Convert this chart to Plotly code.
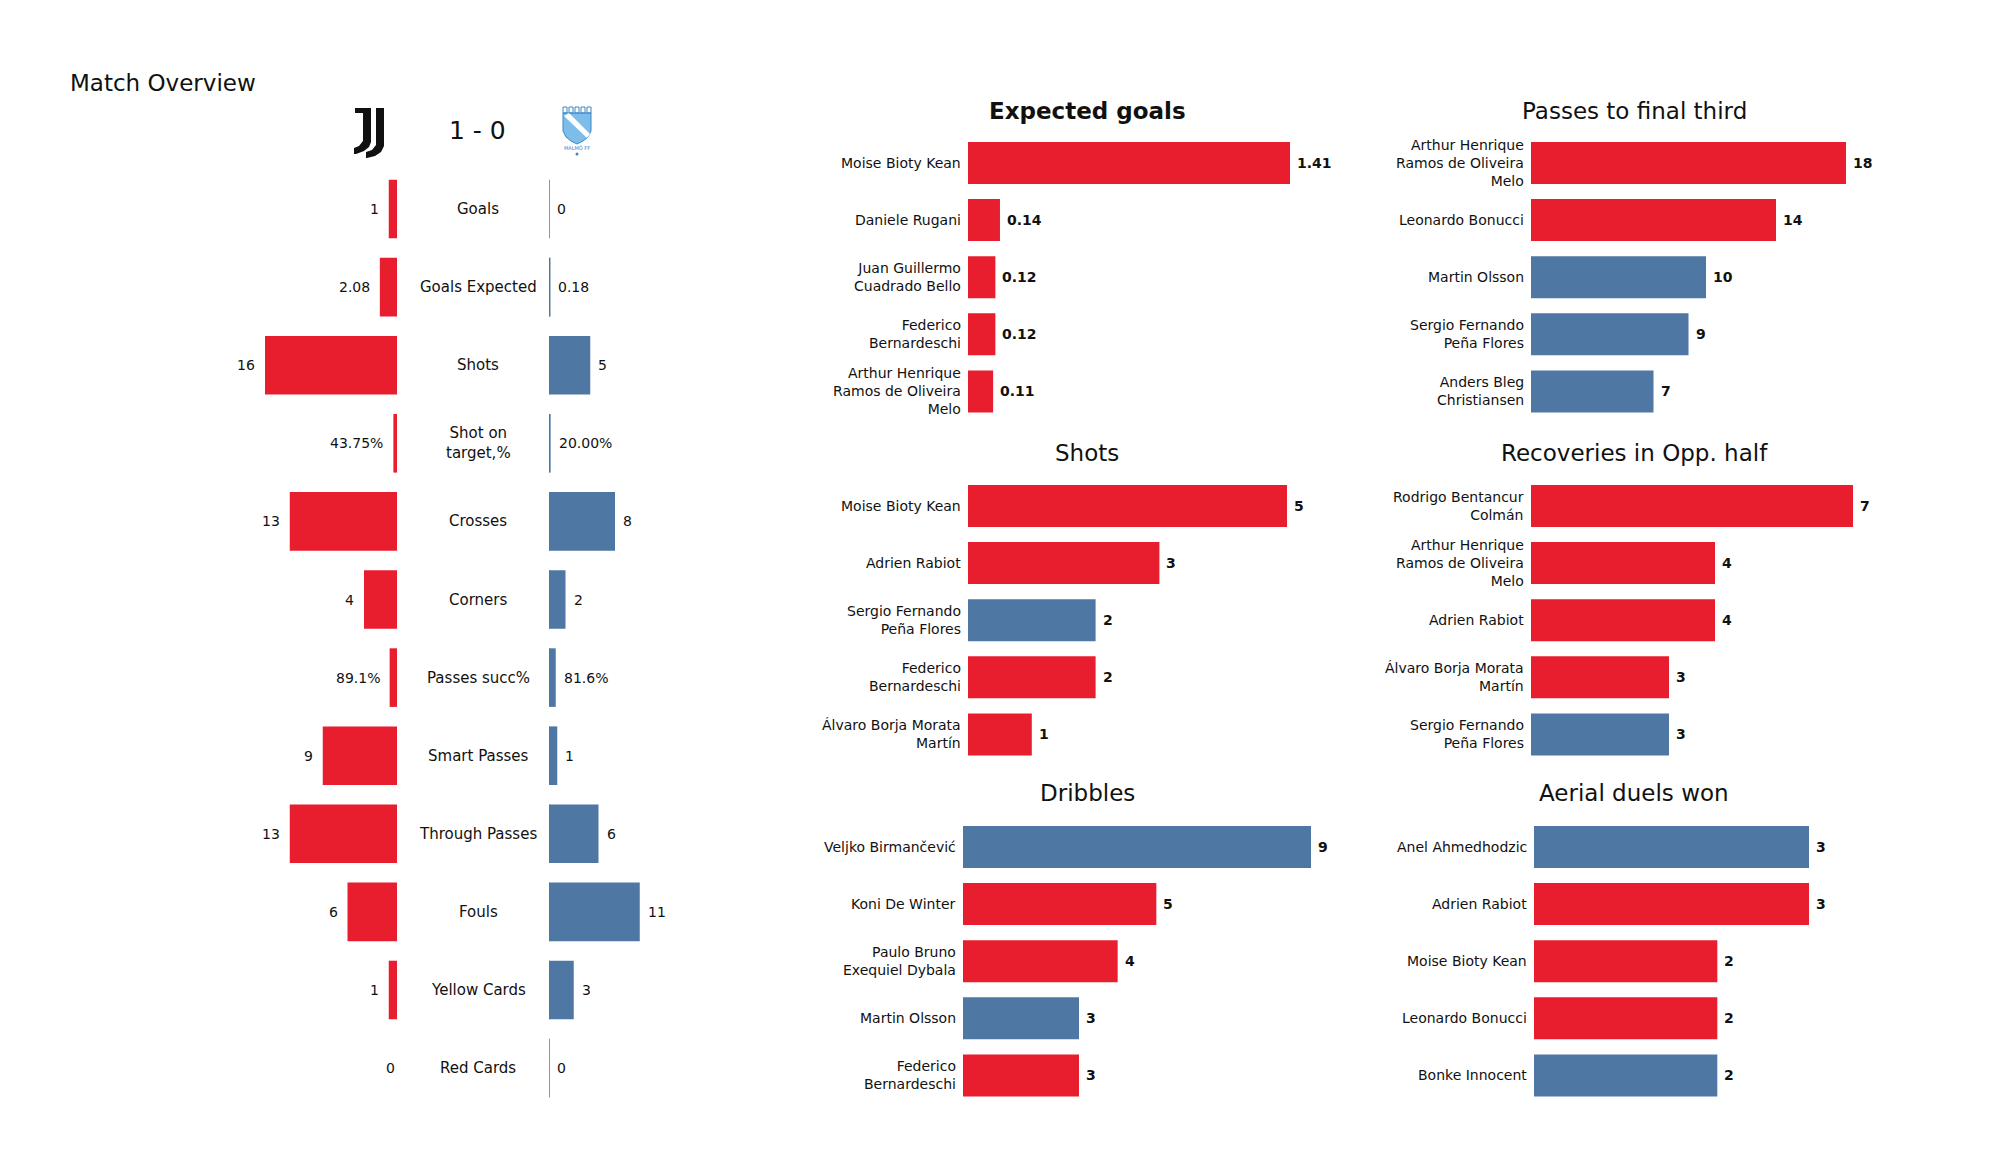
import textwrap
import plotly.graph_objects as go

# ---------------- DATA ----------------
home_team = "Juventus"
away_team = "Malmö FF"
home_goals = 1
away_goals = 0

stat_names = ["Goals", "Goals Expected", "Shots", "Shot on<br>target,%", "Crosses", "Corners",
              "Passes succ%", "Smart Passes", "Through Passes", "Fouls", "Yellow Cards", "Red Cards"]
juve_values = [1, 2.08, 16, 0.4375, 13, 4, 0.891, 9, 13, 6, 1, 0]
juve_labels = ["1", "2.08", "16", "43.75%", "13", "4", "89.1%", "9", "13", "6", "1", "0"]
malmo_values = [0, 0.18, 5, 0.20, 8, 2, 0.816, 1, 6, 11, 3, 0]
malmo_labels = ["0", "0.18", "5", "20.00%", "8", "2", "81.6%", "1", "6", "11", "3", "0"]

xg_players = ["Moise Bioty Kean", "Daniele Rugani", "Juan Guillermo Cuadrado Bello",
              "Federico Bernardeschi", "Arthur Henrique Ramos de Oliveira Melo"]
xg_values = [1.41, 0.14, 0.12, 0.12, 0.11]
xg_teams = ["Juventus", "Juventus", "Juventus", "Juventus", "Juventus"]

pft_players = ["Arthur Henrique Ramos de Oliveira Melo", "Leonardo Bonucci", "Martin Olsson",
               "Sergio Fernando Peña Flores", "Anders Bleg Christiansen"]
pft_values = [18, 14, 10, 9, 7]
pft_teams = ["Juventus", "Juventus", "Malmö FF", "Malmö FF", "Malmö FF"]

shots_players = ["Moise Bioty Kean", "Adrien Rabiot", "Sergio Fernando Peña Flores",
                 "Federico Bernardeschi", "Álvaro Borja Morata Martín"]
shots_values = [5, 3, 2, 2, 1]
shots_teams = ["Juventus", "Juventus", "Malmö FF", "Juventus", "Juventus"]

rec_players = ["Rodrigo Bentancur Colmán", "Arthur Henrique Ramos de Oliveira Melo", "Adrien Rabiot",
               "Álvaro Borja Morata Martín", "Sergio Fernando Peña Flores"]
rec_values = [7, 4, 4, 3, 3]
rec_teams = ["Juventus", "Juventus", "Juventus", "Juventus", "Malmö FF"]

drib_players = ["Veljko Birmančević", "Koni De Winter", "Paulo Bruno Exequiel Dybala",
                "Martin Olsson", "Federico Bernardeschi"]
drib_values = [9, 5, 4, 3, 3]
drib_teams = ["Malmö FF", "Juventus", "Juventus", "Malmö FF", "Juventus"]

aer_players = ["Anel Ahmedhodzic", "Adrien Rabiot", "Moise Bioty Kean",
               "Leonardo Bonucci", "Bonke Innocent"]
aer_values = [3, 3, 2, 2, 2]
aer_teams = ["Malmö FF", "Juventus", "Juventus", "Juventus", "Malmö FF"]

# ---------------- STYLE / LAYOUT ----------------
W, H = 2000, 1175
RED = "#E81E2E"
BLUE = "#4E77A4"
TEAM_COLORS = {"Juventus": RED, "Malmö FF": BLUE}
FONT = "DejaVu Sans"
TXT = "#111111"


def px(x):
    return x / W


def py(y):
    return 1 - y / H


fig = go.Figure()
annotations = []
shapes = []
layout_axes = {}

hidden = dict(visible=False, showgrid=False, zeroline=False, fixedrange=True)

# ---- Left overview panel ----
UNIT = 8.25        # pixels per unit
SPAN = 24          # units shown on each side
JUVE_EDGE = 397    # px where home bars end
MALMO_EDGE = 549   # px where away bars start
ROW0 = 209.0
ROWSTEP = 78.1
nrows = len(stat_names)
rows = list(range(nrows))

layout_axes["xaxis"] = dict(hidden, domain=[px(JUVE_EDGE - UNIT * SPAN), px(JUVE_EDGE)],
                            range=[SPAN, 0], anchor="y")
layout_axes["xaxis2"] = dict(hidden, domain=[px(MALMO_EDGE), px(MALMO_EDGE + UNIT * SPAN)],
                             range=[0, SPAN], anchor="y")
layout_axes["yaxis"] = dict(hidden, domain=[py(ROW0 + (nrows - 0.5) * ROWSTEP), py(ROW0 - 0.5 * ROWSTEP)],
                            range=[nrows - 0.5, -0.5], anchor="x")

fig.add_trace(go.Bar(x=juve_values, y=rows, orientation="h", width=0.75,
                     marker=dict(color=RED, line=dict(width=0)),
                     xaxis="x", yaxis="y", hoverinfo="skip", showlegend=False))
fig.add_trace(go.Bar(x=malmo_values, y=rows, orientation="h", width=0.75,
                     marker=dict(color=BLUE, line=dict(width=0)),
                     xaxis="x2", yaxis="y", hoverinfo="skip", showlegend=False))
# away baseline (edge line visible even for zero values)
bx, by = [], []
for i in rows:
    bx += [0, 0, None]
    by += [i - 0.375, i + 0.375, None]
fig.add_trace(go.Scatter(x=bx, y=by, mode="lines", line=dict(color=BLUE, width=1.5),
                         xaxis="x2", yaxis="y", hoverinfo="skip", showlegend=False))

for i, name in enumerate(stat_names):
    annotations.append(dict(x=px(478), xref="paper", y=i, yref="y", text=name, showarrow=False,
                            xanchor="center", yanchor="middle", align="center",
                            font=dict(family=FONT, size=15, color=TXT)))
for i, (v, lab) in enumerate(zip(juve_values, juve_labels)):
    annotations.append(dict(x=v, xref="x", y=i, yref="y", text=lab, showarrow=False,
                            xanchor="right", yanchor="middle", xshift=(-8 if v > 0 else 0),
                            font=dict(family=FONT, size=14, color=TXT)))
for i, (v, lab) in enumerate(zip(malmo_values, malmo_labels)):
    annotations.append(dict(x=v, xref="x2", y=i, yref="y", text=lab, showarrow=False,
                            xanchor="left", yanchor="middle", xshift=6,
                            font=dict(family=FONT, size=14, color=TXT)))

annotations.append(dict(x=px(68), y=py(83), xref="paper", yref="paper", text="Match Overview",
                        showarrow=False, xanchor="left", yanchor="middle",
                        font=dict(family=FONT, size=23, color=TXT)))
annotations.append(dict(x=px(477), y=py(131), xref="paper", yref="paper",
                        text=f"{home_goals} - {away_goals}",
                        showarrow=False, xanchor="center", yanchor="middle",
                        font=dict(family=FONT, size=25, color=TXT)))


# ---- Logos (decorative shapes) ----
def poly(points):
    return "M " + " L ".join(f"{px(x):.5f},{py(y):.5f}" for x, y in points) + " Z"


juve_j1 = [(355, 108), (371, 108), (371, 142), (369, 147), (364, 151), (356, 154), (354, 154),
           (354, 148), (359, 146), (363, 141), (363, 113), (355, 113)]
juve_j2 = [(374, 108), (384, 108), (384, 146), (381, 152), (375, 156), (367, 158), (366, 158),
           (366, 152), (372, 150), (376, 145), (376, 108)]
for pts in (juve_j1, juve_j2):
    shapes.append(dict(type="path", xref="paper", yref="paper", path=poly(pts),
                       fillcolor="#111111", line=dict(width=0), layer="above"))

shield = [(563, 113), (591, 113), (591, 131), (588, 137), (583, 141), (577, 144),
          (571, 141), (566, 137), (563, 131)]
shapes.append(dict(type="path", xref="paper", yref="paper", path=poly(shield),
                   fillcolor="#7CBDE9", line=dict(color="#3C86C6", width=1), layer="above"))
stripe = [(564, 116), (569, 113), (590, 134), (587, 138)]
shapes.append(dict(type="path", xref="paper", yref="paper", path=poly(stripe),
                   fillcolor="white", line=dict(width=0), layer="above"))
for cx in (565, 571, 577, 583, 589):
    shapes.append(dict(type="rect", xref="paper", yref="paper",
                       x0=px(cx - 2), x1=px(cx + 2), y0=py(113), y1=py(107),
                       fillcolor="rgba(0,0,0,0)", line=dict(color="#3C86C6", width=1), layer="above"))
shapes.append(dict(type="circle", xref="paper", yref="paper",
                   x0=px(575.5), x1=px(578.5), y0=py(155.5), y1=py(152.5),
                   fillcolor="#3C86C6", line=dict(width=0), layer="above"))
annotations.append(dict(x=px(577), y=py(148), xref="paper", yref="paper", text="MALMÖ FF",
                        showarrow=False, xanchor="center", yanchor="middle",
                        font=dict(family=FONT, size=5, color="#3C86C6")))

# ---- Player panels ----
ROWSTEP_P = 57.1
panels = [
    dict(title="Expected goals", bold=True, names=xg_players, values=xg_values, teams=xg_teams,
         fmt="{:.2f}", left=968, end=1290, c0=163, tx=1087, ty=111),
    dict(title="Passes to final third", bold=False, names=pft_players, values=pft_values, teams=pft_teams,
         fmt="{:d}", left=1531, end=1846, c0=163, tx=1634, ty=111),
    dict(title="Shots", bold=False, names=shots_players, values=shots_values, teams=shots_teams,
         fmt="{:d}", left=968, end=1287, c0=506, tx=1087, ty=453),
    dict(title="Recoveries in Opp. half", bold=False, names=rec_players, values=rec_values, teams=rec_teams,
         fmt="{:d}", left=1531, end=1853, c0=506, tx=1634, ty=453),
    dict(title="Dribbles", bold=False, names=drib_players, values=drib_values, teams=drib_teams,
         fmt="{:d}", left=963, end=1311, c0=847, tx=1087, ty=793),
    dict(title="Aerial duels won", bold=False, names=aer_players, values=aer_values, teams=aer_teams,
         fmt="{:d}", left=1534, end=1809, c0=847, tx=1634, ty=793),
]

for k, p in enumerate(panels, start=3):
    xa, ya = f"x{k}", f"y{k}"
    vmax = max(p["values"])
    n = len(p["values"])
    ridx = list(range(n))
    layout_axes[f"xaxis{k}"] = dict(hidden, domain=[px(p["left"]), px(p["left"] + (p["end"] - p["left"]) * 1.05)],
                                    range=[0, vmax * 1.05], anchor=ya)
    layout_axes[f"yaxis{k}"] = dict(hidden, domain=[py(p["c0"] + (n - 0.5) * ROWSTEP_P),
                                                    py(p["c0"] - 0.5 * ROWSTEP_P)],
                                    range=[n - 0.5, -0.5], anchor=xa)
    fig.add_trace(go.Bar(x=p["values"], y=ridx, orientation="h", width=0.735,
                         marker=dict(color=[TEAM_COLORS[t] for t in p["teams"]], line=dict(width=0)),
                         xaxis=xa, yaxis=ya, hoverinfo="skip", showlegend=False))
    for i, (name, v) in enumerate(zip(p["names"], p["values"])):
        annotations.append(dict(x=0, xref=xa, y=i, yref=ya, text="<br>".join(textwrap.wrap(name, 19)),
                                showarrow=False, xanchor="right", yanchor="middle", align="right",
                                xshift=-5, font=dict(family=FONT, size=14, color=TXT)))
        annotations.append(dict(x=v, xref=xa, y=i, yref=ya, text="<b>" + p["fmt"].format(v) + "</b>",
                                showarrow=False, xanchor="left", yanchor="middle", xshift=5,
                                font=dict(family=FONT, size=14, color=TXT)))
    ttl = "<b>" + p["title"] + "</b>" if p["bold"] else p["title"]
    annotations.append(dict(x=px(p["tx"]), y=py(p["ty"]), xref="paper", yref="paper", text=ttl,
                            showarrow=False, xanchor="center", yanchor="middle",
                            font=dict(family=FONT, size=23, color=TXT)))

fig.update_layout(
    width=W, height=H,
    margin=dict(l=0, r=0, t=0, b=0),
    paper_bgcolor="white", plot_bgcolor="rgba(0,0,0,0)",
    showlegend=False, barmode="overlay",
    annotations=annotations, shapes=shapes,
    font=dict(family=FONT, color=TXT),
    **layout_axes,
)

fig.write_html("out.html", config={"displayModeBar": False, "staticPlot": True},
               post_script="document.body.style.margin='0';document.body.style.overflow='hidden';")
